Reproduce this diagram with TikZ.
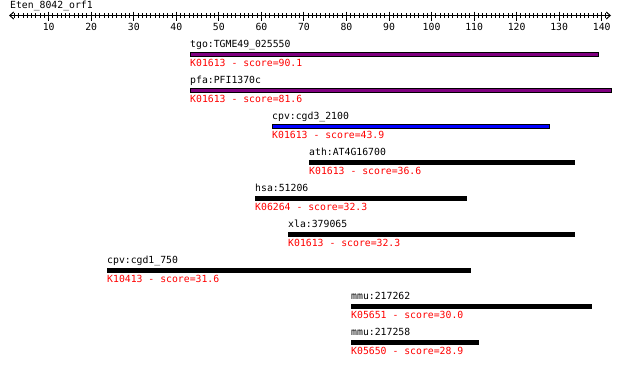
\documentclass[tikz,border=0pt]{standalone}
\usepackage{fontspec}
\setmonofont{DejaVu Sans Mono}
\usetikzlibrary{arrows.meta}
\definecolor{hitpurple}{RGB}{128,0,128}

\tikzset{
  hitlabel/.style={anchor=base west,inner sep=0pt,font=\ttfamily\fontsize{9.8}{10}\selectfont},
  scorelabel/.style={hitlabel,text=red},
  ticklabel/.style={anchor=base,inner sep=0pt,font=\ttfamily\fontsize{9.8}{10}\selectfont},
  hitbar/.style={draw=black,line width=1pt}
}

\begin{document}
\begin{tikzpicture}[x=1pt,y=-1pt]
\useasboundingbox (0,0) rectangle (620,365);

% sequence ruler
\node[hitlabel] (title) at (10,8.5) {Eten\_8042\_orf1};
\draw[line width=1pt,{Straight Barb[length=4pt,width=7pt]}-{Straight Barb[length=4pt,width=7pt]}] (9,15.5) -- (611,15.5);
\foreach \u in {2,...,141}
  \draw[line width=1pt] ({6.16+4.254*\u},13) -- ++(0,5);
\foreach \u in {10,20,...,140} {
  \draw[line width=1pt] ({6.16+4.254*\u},11.5) -- ++(0,9);
  \node[ticklabel] (t\u) at ({6.16+4.254*\u},30) {\u};
}

% hits
\foreach \xa/\xb/\col/\hit/\ko/\sc [count=\i] in {
  190/598/hitpurple/tgo:TGME49\_025550/K01613/90.1,
  190/611/hitpurple/pfa:PFI1370c/K01613/81.6,
  272/549/blue/cpv:cgd3\_2100/K01613/43.9,
  309/574/black/ath:AT4G16700/K01613/36.6,
  255/466/black/hsa:51206/K06264/32.3,
  288/574/black/xla:379065/K01613/32.3,
  107/470/black/cpv:cgd1\_750/K10413/31.6,
  351/591/black/mmu:217262/K05651/30.0,
  351/478/black/mmu:217258/K05650/28.9} {
  \pgfmathsetmacro{\c}{54.3+36*(\i-1)}
  \draw[hitbar,fill=\col] (\xa,\c-2) rectangle (\xb,\c+2);
  \node[hitlabel] (h\i) at (\xa,\c-6.5) {\hit};
  \node[scorelabel] (s\i) at (\xa,\c+12.5) {\ko{} - score=\sc};
}

\end{tikzpicture}
\end{document}
